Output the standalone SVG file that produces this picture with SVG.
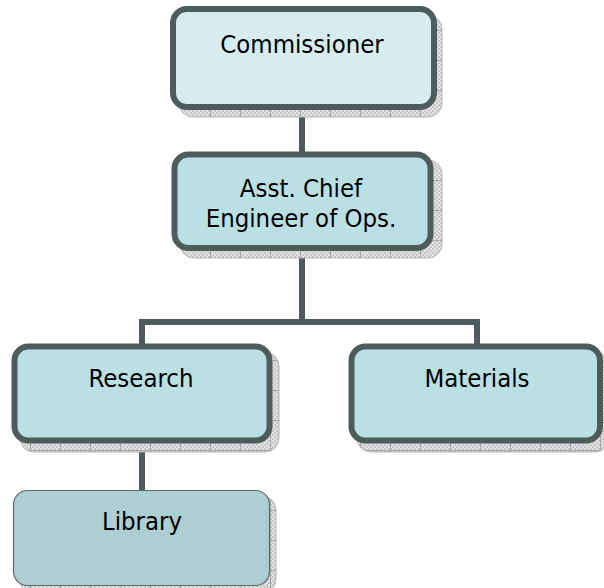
<svg xmlns="http://www.w3.org/2000/svg" width="604" height="588" viewBox="0 0 604 588">
  <defs>
    <pattern id="hatch" width="4" height="4" patternUnits="userSpaceOnUse">
      <rect width="4" height="4" fill="#e4e4e4"/>
      <rect width="2" height="2" fill="#c6c6c6"/>
      <rect x="2" y="2" width="2" height="2" fill="#c6c6c6"/>
    </pattern>
    <pattern id="grid" width="30" height="30" patternUnits="userSpaceOnUse">
      <rect width="30" height="30" fill="url(#hatch)"/>
      <line x1="0.5" y1="0" x2="0.5" y2="30" stroke="#a8a8a8" stroke-width="1"/>
      <line x1="0" y1="0.5" x2="30" y2="0.5" stroke="#a8a8a8" stroke-width="1"/>
    </pattern>
  </defs>
  <style>
    .shadow { fill: url(#grid); stroke: #b4b4b4; stroke-width: 1; }
    .box { stroke: #4d5d5e; stroke-width: 6; }
    .top { fill: #d7ecef; }
    .mid { fill: #bbe0e3; }
    .low { fill: #aecfd1; stroke: #5a6a6b; stroke-width: 1.2; }
    .conn { fill: none; stroke: #4d5d5e; stroke-width: 6; }
    text { font-family: "DejaVu Sans Condensed", "DejaVu Sans", "Liberation Sans", sans-serif; font-stretch: condensed; font-size: 25.5px; fill: #000; text-anchor: middle; }
  </style>
  <rect width="604" height="588" fill="#fff"/>

  <g id="connectors">
    <line class="conn" x1="302" y1="108" x2="302" y2="154"/>
    <polyline class="conn" points="302,248 302,322 142,322 142,346"/>
    <polyline class="conn" points="302,322 477,322 477,346"/>
    <line class="conn" x1="142" y1="440" x2="142" y2="492"/>
  </g>

  <g id="commissioner">
    <rect class="shadow" x="179" y="15" width="263" height="102" rx="14"/>
    <rect class="box top" x="173" y="9" width="261" height="98" rx="14"/>
    <text x="302" y="53">Commissioner</text>
  </g>

  <g id="asst-chief">
    <rect class="shadow" x="180" y="160" width="262" height="98" rx="14"/>
    <rect class="box mid" x="174.5" y="154.5" width="256" height="93.5" rx="14"/>
    <text x="301" y="196.5">Asst. Chief</text>
    <text x="301" y="227">Engineer of Ops.</text>
  </g>

  <g id="research">
    <rect class="shadow" x="20" y="352" width="259" height="100" rx="14"/>
    <rect class="box mid" x="14.5" y="346.5" width="255" height="94" rx="14"/>
    <text x="141" y="387">Research</text>
  </g>

  <g id="materials">
    <rect class="shadow" x="357" y="352" width="252" height="100" rx="14"/>
    <rect class="box mid" x="351.5" y="346.5" width="248.5" height="94" rx="14"/>
    <text x="477" y="387">Materials</text>
  </g>

  <g id="library">
    <rect class="shadow" x="19" y="496" width="257" height="97" rx="14"/>
    <rect class="low" x="13.5" y="490.5" width="256" height="95" rx="14"/>
    <text x="142" y="530">Library</text>
  </g>
</svg>
